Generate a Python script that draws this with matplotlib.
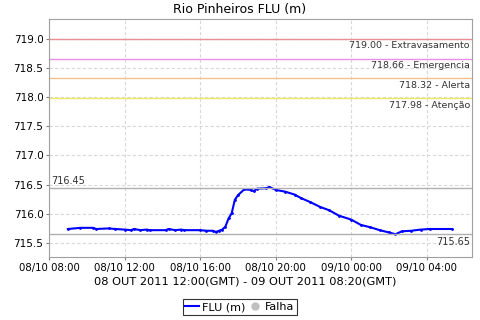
import numpy as np
import pandas as pd
import matplotlib
matplotlib.use("Agg")
import matplotlib.pyplot as plt
import matplotlib.dates as mdates
from matplotlib.lines import Line2D

# leituras (hora local) e nivel em metros
times = ["2011-10-08 09:00", "2011-10-08 09:40", "2011-10-08 10:20", "2011-10-08 10:30",
         "2011-10-08 11:10", "2011-10-08 11:30", "2011-10-08 12:00", "2011-10-08 12:20",
         "2011-10-08 12:30", "2011-10-08 12:50", "2011-10-08 13:10", "2011-10-08 13:20",
         "2011-10-08 14:10", "2011-10-08 14:20", "2011-10-08 14:40", "2011-10-08 15:00",
         "2011-10-08 15:10", "2011-10-08 16:00", "2011-10-08 16:20", "2011-10-08 16:40",
         "2011-10-08 16:50", "2011-10-08 17:00", "2011-10-08 17:10", "2011-10-08 17:20",
         "2011-10-08 17:30", "2011-10-08 17:40", "2011-10-08 17:50", "2011-10-08 18:00",
         "2011-10-08 18:20", "2011-10-08 18:40", "2011-10-08 18:50", "2011-10-08 19:00",
         "2011-10-08 19:30", "2011-10-08 19:40", "2011-10-08 20:00", "2011-10-08 20:30",
         "2011-10-08 21:00", "2011-10-08 21:20", "2011-10-08 21:50", "2011-10-08 22:20",
         "2011-10-08 22:50", "2011-10-08 23:20", "2011-10-09 00:00", "2011-10-09 00:30",
         "2011-10-09 01:00", "2011-10-09 01:30", "2011-10-09 02:00", "2011-10-09 02:20",
         "2011-10-09 02:40", "2011-10-09 03:10", "2011-10-09 03:40", "2011-10-09 04:10",
         "2011-10-09 05:20"]
flu = [715.74, 715.76, 715.76, 715.74,
       715.75, 715.74, 715.73, 715.72,
       715.74, 715.72, 715.73, 715.72,
       715.72, 715.74, 715.72, 715.73,
       715.72, 715.72, 715.71, 715.71,
       715.69, 715.71, 715.73, 715.78,
       715.92, 716.01, 716.24, 716.32,
       716.42, 716.41, 716.39, 716.43,
       716.44, 716.46, 716.41, 716.38,
       716.33, 716.27, 716.20, 716.12,
       716.06, 715.97, 715.90, 715.81,
       715.77, 715.72, 715.68, 715.65,
       715.70, 715.71, 715.73, 715.74,
       715.74]

limits = [719.00, 718.66, 718.32, 717.98]
limit_names = ["Extravasamento", "Emergencia", "Alerta", "Atenção"]
limit_colors = ["#e89090", "#e890e8", "#f5c08a", "#f2e860"]
max_val = 716.45
min_val = 715.65

t = pd.to_datetime(times)

fig = plt.figure(figsize=(4.8, 3.2), dpi=100)
ax = fig.add_axes([49/480, 1-257/320, (472-49)/480, (257-19)/320])

ax.plot(t, flu, color="#0000ff", lw=1.5, marker="o", ms=1.0)

for v, n, c in zip(limits, limit_names, limit_colors):
    ax.axhline(v, color=c, lw=1)
    ax.text(0.995, v - 0.04, "%.2f - %s" % (v, n), transform=ax.get_yaxis_transform(),
            ha="right", va="top", fontsize=6.8, color="#333333")

ax.axhline(max_val, color="#b0b0b0", lw=1)
ax.axhline(min_val, color="#b0b0b0", lw=1)
ax.text(0.005, max_val + 0.03, "%.2f" % max_val, transform=ax.get_yaxis_transform(),
        ha="left", va="bottom", fontsize=7, color="#333333")
ax.text(0.995, min_val - 0.04, "%.2f" % min_val, transform=ax.get_yaxis_transform(),
        ha="right", va="top", fontsize=7, color="#333333")

x0 = pd.Timestamp("2011-10-08 08:00")
x1 = pd.Timestamp("2011-10-09 06:23")
ax.set_xlim(x0, x1)
ax.set_ylim(715.26, 719.34)
ax.set_yticks(np.arange(715.5, 719.01, 0.5))
ax.yaxis.set_major_formatter(matplotlib.ticker.FormatStrFormatter("%.1f"))
ax.xaxis.set_major_locator(mdates.HourLocator(byhour=[0, 4, 8, 12, 16, 20]))
ax.xaxis.set_major_formatter(mdates.DateFormatter("%d/%m %H:%M"))
ax.tick_params(axis="x", labelsize=7.3, length=2, color="#808080", pad=2)
ax.tick_params(axis="y", labelsize=7.5, length=2, color="#808080", pad=2)
ax.grid(True, color="#d8d8d8", ls=(0, (3, 2)), lw=0.8)
for s in ax.spines.values():
    s.set_color("#a0a0a0")

fig.text(0.5, 1-9/320, "Rio Pinheiros FLU (m)", ha="center", va="center", fontsize=9)
fig.text(245/480, 1-281/320, "08 OUT 2011 12:00(GMT) - 09 OUT 2011 08:20(GMT)",
         ha="center", va="center", fontsize=8.2)

handles = [Line2D([], [], color="#0000ff", lw=1.5),
           Line2D([], [], color="#c0c0c0", marker="o", ls="", ms=5)]
leg = fig.legend(handles, ["FLU (m)", "Falha"], loc="center", bbox_to_anchor=(240/480, 1-307/320),
                 ncol=2, fontsize=8, frameon=True, fancybox=False, handlelength=1.2,
                 handletextpad=0.3, columnspacing=0.3, borderpad=0.25)
leg.get_frame().set_edgecolor("black")
leg.get_frame().set_linewidth(0.8)

fig.savefig("out.png", dpi=100)
